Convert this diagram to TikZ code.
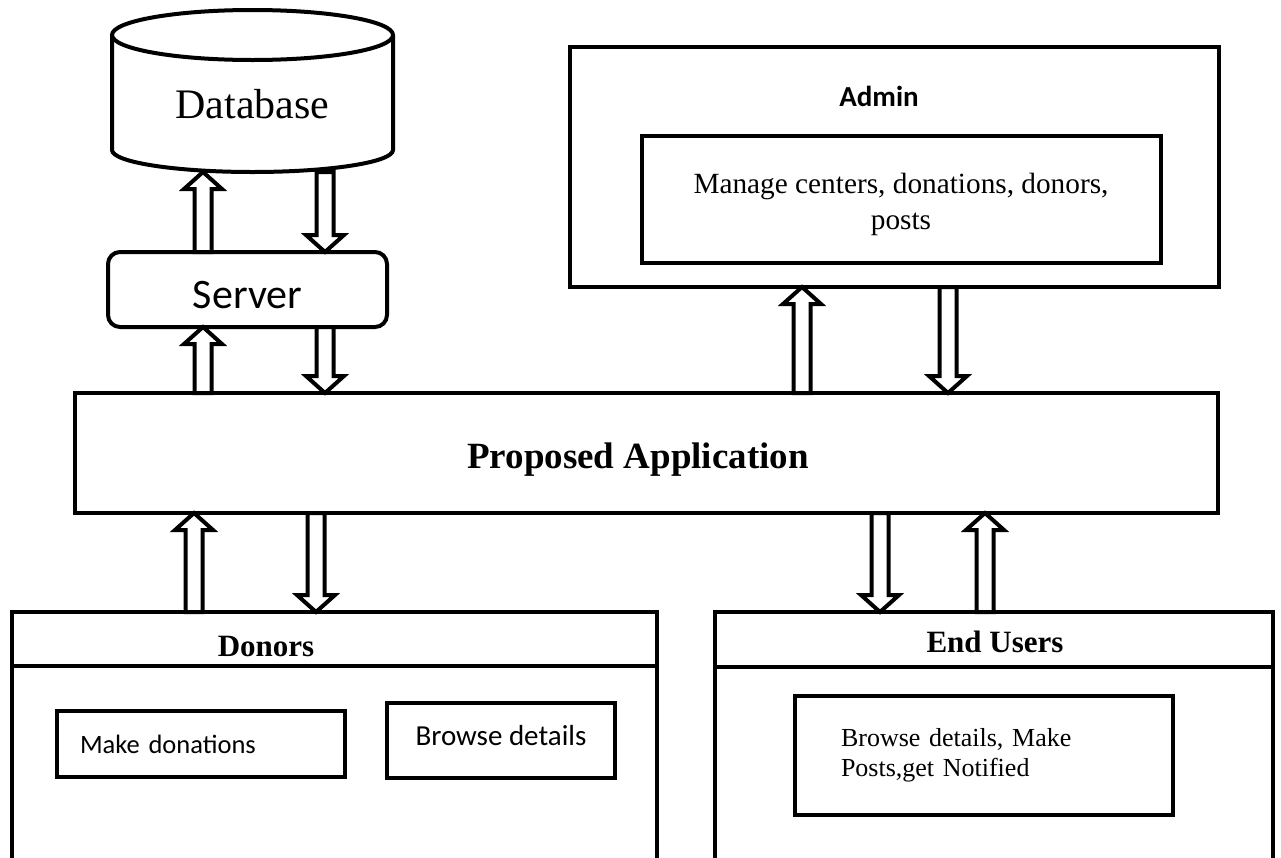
\documentclass[tikz,border=0pt]{standalone}
\usepackage{fontspec}
\setmainfont{Liberation Serif}
\newfontfamily\calib{Carlito}
\usetikzlibrary{calc}
\tikzset{
  box/.style={draw, line width=4pt, outer sep=0pt, inner sep=0pt},
  thick4/.style={line width=4pt},
  blk/.style={draw, line width=4pt, fill=white, line join=miter, miter limit=10},
}
\newcommand\blockarrow[2]{%
  \draw[blk] let \p1=(#1), \p2=(#2), \n1={(\y2>\y1)?-17:17} in
      (\x1-8.5pt,\y1) -- (\x1-8.5pt,\y2+\n1) -- (\x1-19pt,\y2+\n1) -- (\x2,\y2)
      -- (\x1+19pt,\y2+\n1) -- (\x1+8.5pt,\y2+\n1) -- (\x1+8.5pt,\y1) -- cycle;}
\begin{document}
\begin{tikzpicture}[x=1pt,y=-1pt]
\clip (0,0) rectangle (1281,857);
\fill[white] (0,0) rectangle (1281,857);

% x positions of the connectors
\coordinate (xa) at (203,0);
\coordinate (xb) at (325,0);
\coordinate (xc) at (802,0);
\coordinate (xd) at (948,0);
\coordinate (xe) at (194,0);
\coordinate (xf) at (316,0);
\coordinate (xg) at (880,0);
\coordinate (xh) at (985,0);

% Database
\node[outer sep=0pt, inner sep=0pt, minimum width=281pt, minimum height=137pt,
      text height=29pt, text depth=0pt,
      font=\fontsize{42}{50}\selectfont] (db) at (252.5,103.5) {Database};
\draw[thick4] (db.north) ellipse [x radius=140.5pt, y radius=25pt];
\draw[thick4] (db.north west) -- ([yshift=22pt]db.south west)
   arc [start angle=180, end angle=360, x radius=140.5pt, y radius=22pt] -- (db.north east);

% Server
\node[box, rounded corners=12pt, minimum width=279pt, minimum height=75pt,
      text height=37pt, text depth=0pt,
      font=\calib\fontsize{42}{50}\selectfont] (srv) at (247.5,289.5) {Server};

% Admin
\node[box, minimum width=649pt, minimum height=240pt] (adm) at (894.5,167) {};
\node[anchor=base, font=\calib\bfseries\fontsize{29}{34}\selectfont] (admt) at (879,106) {Admin};
\node[box, minimum width=519pt, minimum height=127pt] (mng) at (901.5,199.5) {};
\node[align=center, inner sep=0pt, font=\fontsize{29.3}{36}\selectfont] (mngt) at (901,204)
      {Manage centers, donations, donors,\\posts};

% Proposed application
\node[box, minimum width=1143pt, minimum height=120pt] (app) at (646.5,453) {};
\node[anchor=base, font=\bfseries\fontsize{37}{44}\selectfont] (appt) at (638,468) {Proposed Application};

% Donors
\node[box, minimum width=645pt, minimum height=300pt, anchor=north] (don) at (334.5,612) {};
\draw[thick4] ([yshift=-54pt]don.north west) -- ([yshift=-54pt]don.north east);
\node[anchor=base, font=\bfseries\fontsize{31}{36}\selectfont] (dont) at (266,656) {Donors};
\node[box, minimum width=288pt, minimum height=66pt, text width=242pt, inner xsep=23pt, align=left,
      font=\calib\fontsize{26.5}{32}\selectfont] (mk) at (201,744) {Make donations};
\node[box, minimum width=228pt, minimum height=75pt, text height=9pt, text depth=0pt,
      font=\calib\fontsize{29}{34}\selectfont] (brw) at (501,740.5) {Browse details};

% End users
\node[box, minimum width=558pt, minimum height=300pt, anchor=north] (eu) at (994,612) {};
\draw[thick4] ([yshift=-55pt]eu.north west) -- ([yshift=-55pt]eu.north east);
\node[anchor=base, font=\bfseries\fontsize{31}{36}\selectfont] (eut) at (995,652) {End Users};
\node[box, minimum width=378pt, minimum height=119pt, text width=286pt, inner xsep=46pt, align=left,
      font=\fontsize{26}{30}\selectfont] (euin) at (984,755.5) {Browse details, Make\\Posts,get Notified};

% Connectors
\blockarrow{srv.north -| xa}{db.south -| xa}
\blockarrow{db.south -| xb}{srv.north -| xb}
\blockarrow{app.north -| xa}{srv.south -| xa}
\blockarrow{srv.south -| xb}{app.north -| xb}
\blockarrow{app.north -| xc}{adm.south -| xc}
\blockarrow{adm.south -| xd}{app.north -| xd}
\blockarrow{don.north -| xe}{app.south -| xe}
\blockarrow{app.south -| xf}{don.north -| xf}
\blockarrow{app.south -| xg}{eu.north -| xg}
\blockarrow{eu.north -| xh}{app.south -| xh}
\end{tikzpicture}
\end{document}
